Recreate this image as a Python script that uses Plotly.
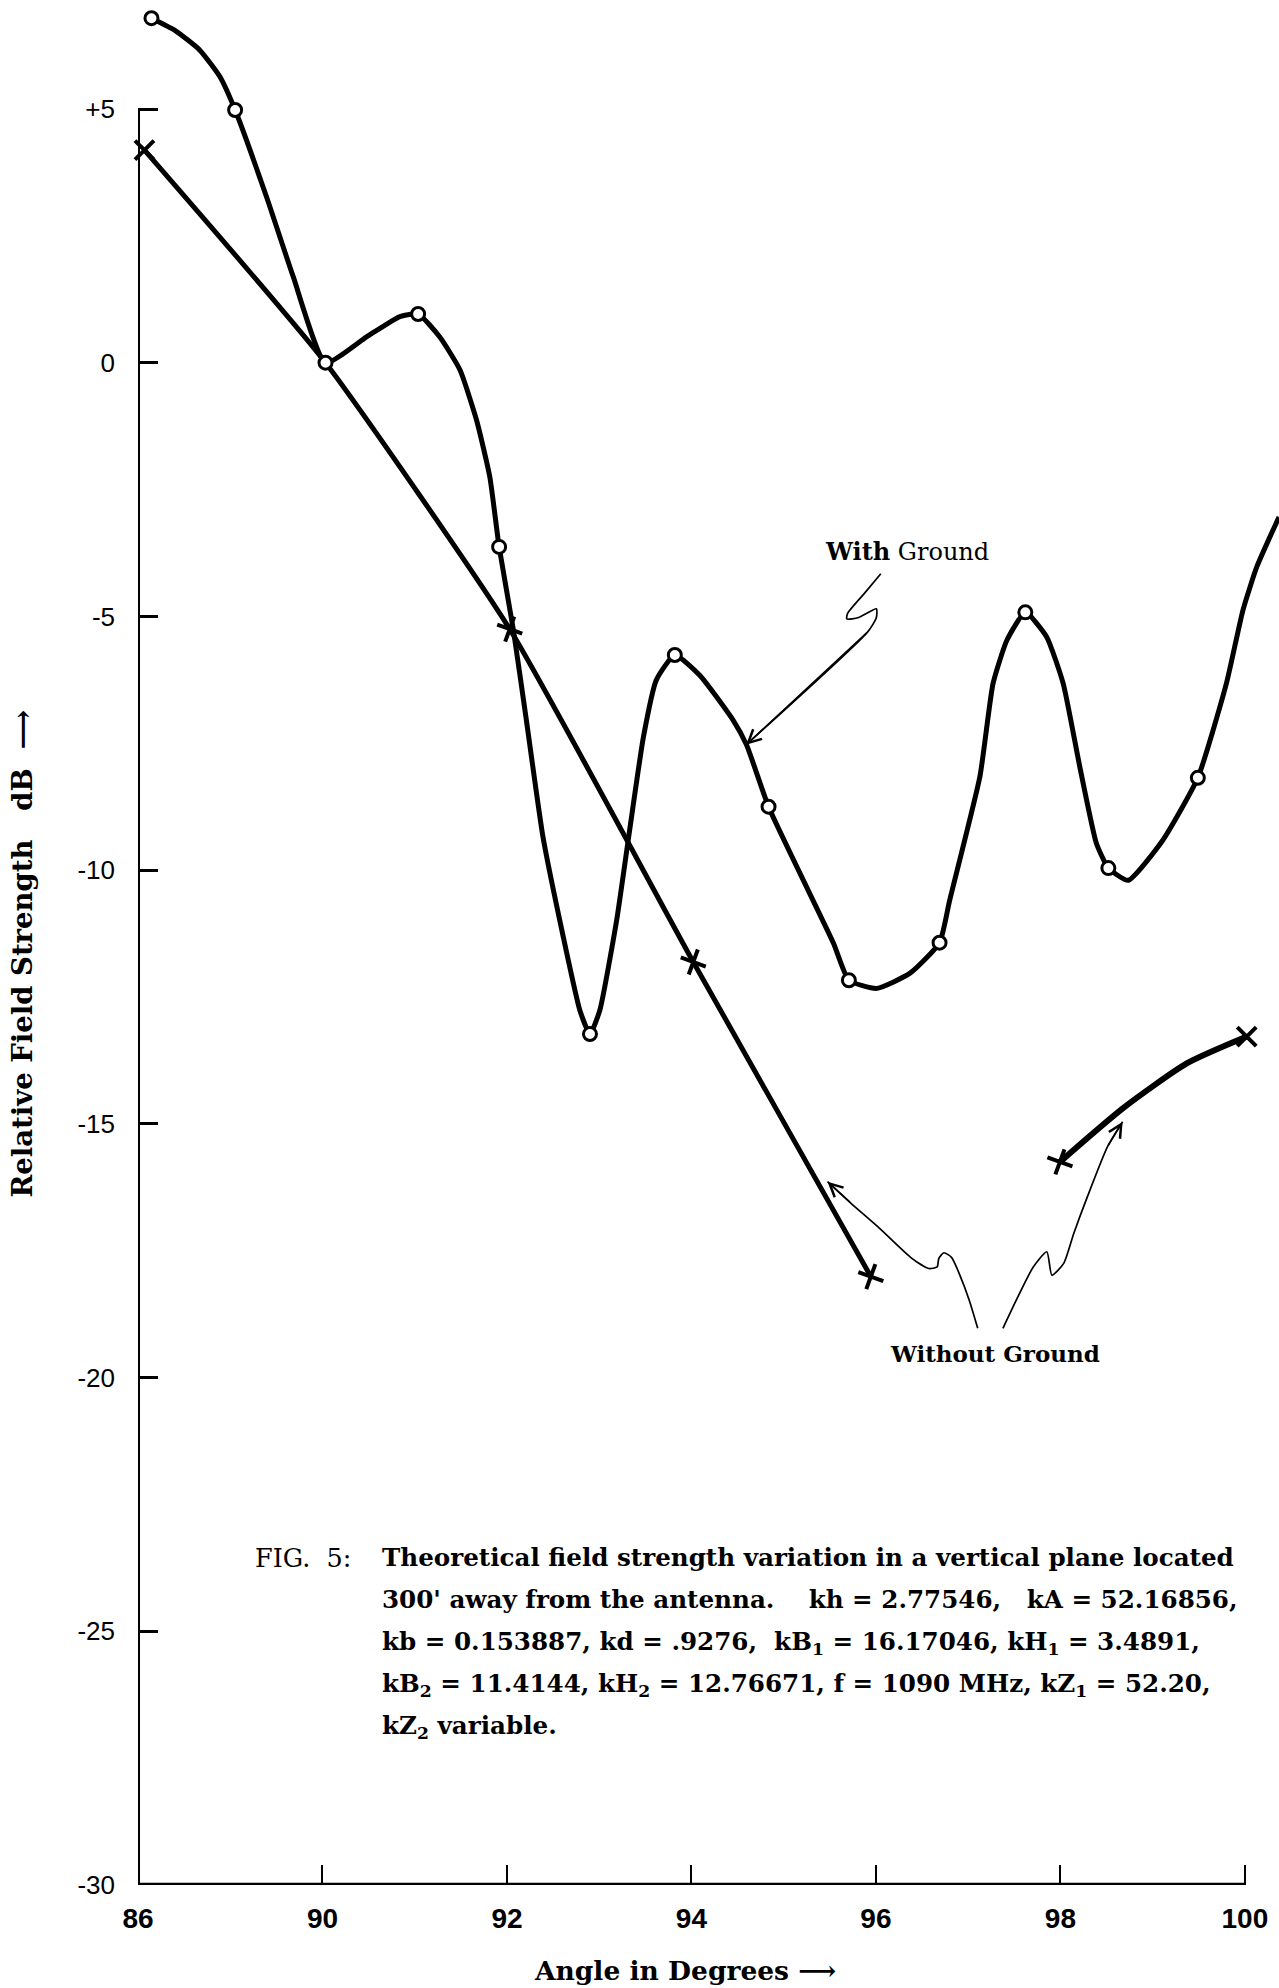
import plotly.graph_objects as go

# ---------------- data ----------------
# x axis: the leftmost tick is printed "86" although it sits where 88 would be
x_ticks = [88, 90, 92, 94, 96, 98, 100]
x_tick_text = ["86", "90", "92", "94", "96", "98", "100"]
y_ticks = [-30, -25, -20, -15, -10, -5, 0, 5]
y_tick_text = ["-30", "-25", "-20", "-15", "-10", "-5", "0", "+5"]

# "With Ground" curve (traced shape)
with_curve_x = [88.146, 88.40, 88.67, 88.887, 89.053, 89.393, 89.682, 90.033, 90.478, 90.84, 91.037,
                91.27, 91.49, 91.67, 91.814, 91.915, 92.07, 92.21, 92.39, 92.61, 92.79, 92.90,
                93.007, 93.19, 93.33, 93.48, 93.62, 93.82, 94.09, 94.45, 94.597, 94.836, 95.176, 95.54,
                95.707, 96.01, 96.37, 96.69, 96.80, 97.127, 97.27, 97.42, 97.62, 97.85, 98.03,
                98.21, 98.39, 98.52, 98.735, 99.11, 99.49, 99.80, 99.98, 100.13, 100.37]
with_curve_y = [6.79, 6.55, 6.16, 5.64, 4.98, 3.27, 1.70, 0.0, 0.51, 0.91, 0.96,
                0.51, -0.14, -1.13, -2.25, -3.63, -5.27, -7.04, -9.34, -11.31, -12.76, -13.23,
                -12.76, -10.98, -9.21, -7.37, -6.25, -5.76, -6.16, -7.04, -7.53, -8.75, -10.06, -11.44,
                -12.17, -12.33, -12.03, -11.43, -10.59, -8.16, -6.32, -5.47, -4.92, -5.40, -6.32,
                -7.96, -9.47, -9.96, -10.20, -9.41, -8.18, -6.32, -4.87, -4.02, -3.04]
# "With Ground" computed points (open circles)
with_pts_x = [88.146, 89.053, 90.033, 91.037, 91.915, 92.90, 93.82, 94.836, 95.707, 96.69, 97.62, 98.52, 99.49]
with_pts_y = [6.79, 4.98, 0.0, 0.96, -3.63, -13.23, -5.76, -8.75, -12.17, -11.43, -4.92, -9.96, -8.18]

# "Without Ground" – first branch (crosses)
wo1_x = [88.07, 90.033, 92.03, 94.02, 95.945]
wo1_y = [4.19, 0.0, -5.25, -11.81, -18.01]
# "Without Ground" – second branch
wo2_x = [97.995, 98.68, 99.37, 100.02]
wo2_y = [-15.75, -14.69, -13.81, -13.28]

# pointer lines of the labels
wg_ptr_x = [96.053, 95.873, 95.693, 95.685, 95.813, 96.005, 96.005, 95.913, 94.592]
wg_ptr_y = [-4.16, -4.55, -4.94, -5.05, -5.02, -4.85, -5.02, -5.30, -7.53]
wo_ptr1_x = [97.104, 97.011, 96.903, 96.82, 96.737, 96.682, 96.664, 96.572, 96.389, 96.023, 95.733, 95.475]
wo_ptr1_y = [-19.03, -18.47, -17.95, -17.63, -17.54, -17.65, -17.82, -17.85, -17.65, -17.03, -16.57, -16.14]
wo_ptr2_x = [97.377, 97.523, 97.706, 97.853, 97.908, 98.036, 98.145, 98.292, 98.511, 98.675]
wo_ptr2_y = [-19.03, -18.47, -17.82, -17.52, -17.98, -17.75, -17.16, -16.44, -15.45, -14.96]

caption_head = "FIG.\u00a0 5:"
caption_lines = [
    "Theoretical field strength variation in a vertical plane located",
    "300' away from the antenna.\u00a0\u00a0\u00a0 kh = 2.77546,\u00a0\u00a0 kA = 52.16856,",
    "kb = 0.153887, kd = .9276,\u00a0 kB<sub>1</sub> = 16.17046, kH<sub>1</sub> = 3.4891,",
    "kB<sub>2</sub> = 11.4144, kH<sub>2</sub> = 12.76671, f = 1090 MHz, kZ<sub>1</sub> = 52.20,",
    "kZ<sub>2</sub> variable.",
]

# ---------------- figure ----------------
BLACK = "#000000"
SERIF = "DejaVu Serif"
SANS = "Liberation Sans"

fig = go.Figure()

# pointer lines
for px_, py_ in [(wg_ptr_x, wg_ptr_y), (wo_ptr1_x, wo_ptr1_y), (wo_ptr2_x, wo_ptr2_y)]:
    fig.add_trace(go.Scatter(x=px_, y=py_, mode="lines",
                             line=dict(color=BLACK, width=1.7, shape="spline", smoothing=0.6),
                             hoverinfo="skip", showlegend=False))

# without ground
fig.add_trace(go.Scatter(x=wo1_x, y=wo1_y, mode="lines",
                         line=dict(color=BLACK, width=5, shape="spline", smoothing=0.5),
                         showlegend=False))
fig.add_trace(go.Scatter(x=wo2_x, y=wo2_y, mode="lines",
                         line=dict(color=BLACK, width=6, shape="spline", smoothing=0.6),
                         showlegend=False))

# with ground curve
fig.add_trace(go.Scatter(x=with_curve_x, y=with_curve_y, mode="lines",
                         line=dict(color=BLACK, width=5, shape="spline", smoothing=0.5),
                         showlegend=False))

# cross markers
cross_x = wo1_x[:1] + wo1_x[2:] + [wo2_x[0], wo2_x[-1]]
cross_y = wo1_y[:1] + wo1_y[2:] + [wo2_y[0], wo2_y[-1]]
cross_sym = ["x-thin"] + ["cross-thin"] * (len(wo1_x) - 2) + ["cross-thin", "x-thin"]
cross_ang = [0] + [20] * (len(wo1_x) - 2) + [20, 0]
fig.add_trace(go.Scatter(x=cross_x, y=cross_y, mode="markers",
                         marker=dict(symbol=cross_sym, angle=cross_ang, size=19,
                                     line=dict(color=BLACK, width=4)),
                         showlegend=False, cliponaxis=False))

# open circles
fig.add_trace(go.Scatter(x=with_pts_x, y=with_pts_y, mode="markers",
                         marker=dict(symbol="circle", size=13, color="white",
                                     line=dict(color=BLACK, width=3)),
                         showlegend=False, cliponaxis=False))

# axis lines (from +5 down to -30, and from the first to the last x tick)
fig.add_shape(type="line", xref="x", yref="y", x0=x_ticks[0], x1=x_ticks[0],
              y0=y_ticks[0], y1=y_ticks[-1], line=dict(color=BLACK, width=4))
fig.add_shape(type="line", xref="x", yref="y", x0=x_ticks[0], x1=x_ticks[-1],
              y0=y_ticks[0], y1=y_ticks[0], line=dict(color=BLACK, width=4.5))

ann = []
# arrowheads of the pointers
for tipx, tipy, backx, backy in [(wg_ptr_x[-1], wg_ptr_y[-1], wg_ptr_x[-2], wg_ptr_y[-2]),
                                 (wo_ptr1_x[-1], wo_ptr1_y[-1], wo_ptr1_x[-2], wo_ptr1_y[-2]),
                                 (wo_ptr2_x[-1], wo_ptr2_y[-1], wo_ptr2_x[-2], wo_ptr2_y[-2])]:
    ann.append(dict(x=tipx, y=tipy, ax=backx, ay=backy, xref="x", yref="y", axref="x", ayref="y",
                    text="", showarrow=True, arrowhead=5, arrowsize=1.7, arrowwidth=1.5,
                    arrowcolor=BLACK, standoff=0))

ann.append(dict(x=96.333, y=-3.725, xref="x", yref="y", text="<b>With</b> Ground", showarrow=False,
                font=dict(family=SERIF, size=24, color=BLACK)))
ann.append(dict(x=97.286, y=-19.52, xref="x", yref="y", text="<b>Without Ground</b>", showarrow=False,
                font=dict(family=SERIF, size=23, color=BLACK)))
# axis titles (paper coordinates, outside the plotting area)
ann.append(dict(x=0.479, y=-0.0456, xref="paper", yref="paper", xanchor="center", yanchor="middle",
                text="<b>Angle in Degrees \u27f6</b>",
                showarrow=False, font=dict(family=SERIF, size=26.5, color=BLACK)))
ann.append(dict(x=-0.1021, y=0.4939, xref="paper", yref="paper", xanchor="center", yanchor="middle",
                text="<b>Relative Field Strength\u00a0\u00a0 dB\u00a0 \u27f6</b>", textangle=-90,
                showarrow=False, font=dict(family=SERIF, size=27.5, color=BLACK)))

# caption
cap_left_head = 89.25
cap_left_body = 90.622
cap_top = -23.22
cap_step = 0.828
ann.append(dict(x=cap_left_head, y=cap_top, xref="x", yref="y", text=caption_head,
                showarrow=False, xanchor="left", yanchor="top",
                font=dict(family=SERIF, size=25.5, color=BLACK)))
for i, line in enumerate(caption_lines):
    ann.append(dict(x=cap_left_body, y=cap_top - i * cap_step, xref="x", yref="y",
                    text="<b>" + line + "</b>", showarrow=False, xanchor="left", yanchor="top",
                    align="left", font=dict(family=SERIF, size=24.6, color=BLACK)))

fig.update_layout(
    width=1279, height=1988,
    margin=dict(l=138, r=0, t=0, b=103),
    paper_bgcolor="white", plot_bgcolor="white",
    showlegend=False,
    annotations=ann,
    xaxis=dict(range=[88, 100.37], tickmode="array", tickvals=x_ticks, ticktext=x_tick_text,
               ticks="inside", ticklen=20, tickwidth=2, tickcolor=BLACK,
               showline=False, showgrid=False, zeroline=False, ticklabelstandoff=14,
               tickfont=dict(family=SANS, size=28, color=BLACK, weight="bold")),
    yaxis=dict(range=[-30, 7.148], tickmode="array", tickvals=y_ticks, ticktext=y_tick_text,
               ticks="inside", ticklen=20, tickwidth=2.5, tickcolor=BLACK,
               showline=False, showgrid=False, zeroline=False, ticklabelstandoff=22,
               tickfont=dict(family=SANS, size=26, color=BLACK)),
)

fig.write_html("out.html")
